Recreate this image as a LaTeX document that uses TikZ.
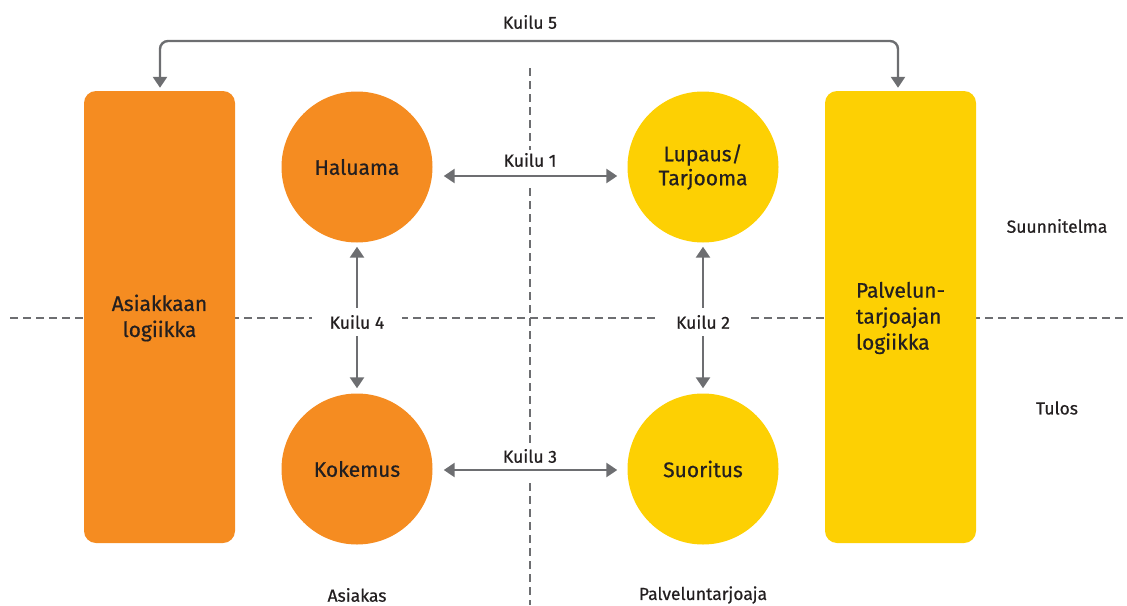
\documentclass[tikz,border=0pt]{standalone}
\usepackage{fontspec}
\setmainfont{Fira Sans}[FakeBold=0.6]
\usetikzlibrary{arrows.meta}
\definecolor{custorange}{HTML}{F58C21}
\definecolor{provyellow}{HTML}{FDD003}
\definecolor{linegray}{HTML}{6D6E71}
\definecolor{textdark}{HTML}{231F20}
\begin{document}
\begin{tikzpicture}[x=1pt,y=-1pt,
  every node/.style={text=textdark,font=\fontsize{17.5}{21}\selectfont},
  bigtext/.style={font=\fontsize{21}{26}\selectfont},
  logicbox/.style={rounded corners=12pt,minimum width=151pt,minimum height=452pt,inner sep=0pt},
  stage/.style={circle,minimum size=151pt,inner sep=0pt,bigtext,align=center},
  gaparrow/.style={draw=linegray,line width=2.4pt,{Triangle[width=14pt,length=11pt]}-{Triangle[width=14pt,length=11pt]}},
  loopline/.style={draw=linegray,line width=2.4pt,{Triangle[width=14pt,length=11pt]}-{Triangle[width=14pt,length=11pt]},rounded corners=8pt},
  guide/.style={draw=linegray,line width=2pt,dash pattern=on 8pt off 5pt},
  gaplabel/.style={fill=white,inner xsep=18pt,inner ysep=7pt}]
\useasboundingbox (0,0) rectangle (1127,605);

% dashed guide lines
\draw[guide] (10,318) -- (1127,318);
\draw[guide] (530,68) -- (530,150);
\draw[guide] (530,188) -- (530,445);
\draw[guide] (530,483) -- (530,605);

% logic boxes
\node[logicbox,fill=custorange] (cust) at (159.5,317) {};
\node[logicbox,fill=provyellow] (prov) at (900.5,317) {};
\node[align=center,bigtext] (custtext) at (159.5,318) {Asiakkaan\\logiikka};
\node[align=left,bigtext] (provtext) at (900.5,318) {Palvelun-\\tarjoajan\\logiikka};

% stages
\node[stage,fill=custorange] (hal) at (357,167) {Haluama};
\node[stage,fill=custorange] (kok) at (357,469) {Kokemus};
\node[stage,fill=provyellow,font=\fontsize{21}{24}\selectfont] (lup) at (703,167) {Lupaus/\\Tarjooma};
\node[stage,fill=provyellow] (suo) at (703,469) {Suoritus};

% gaps 1 and 3
\draw[gaparrow] ([xshift=11pt,yshift=-9pt]hal.east) -- ([xshift=-10pt,yshift=-9pt]lup.west);
\node (k1) at (530,160) {Kuilu 1};
\draw[gaparrow] ([xshift=11pt,yshift=-1pt]kok.east) -- ([xshift=-10pt,yshift=-1pt]suo.west);
\node (k3) at (530,456) {Kuilu 3};

% gaps 4 and 2
\draw[gaparrow] ([yshift=-4pt]hal.south) -- ([yshift=5pt]kok.north);
\node[gaplabel] (k4) at (357,322) {Kuilu 4};
\draw[gaparrow] ([yshift=-4pt]lup.south) -- ([yshift=5pt]suo.north);
\node[gaplabel] (k2) at (703,322) {Kuilu 2};

% gap 5: the loop over the top joining both logic boxes
\coordinate (c5l) at (160,41);
\coordinate (c5r) at (898,41);
\draw[loopline] ([xshift=0.5pt,yshift=3pt]cust.north) -- (c5l) -- (c5r) -- ([xshift=-2.5pt,yshift=3pt]prov.north);
\node (k5) at (530,22) {Kuilu 5};

% side and bottom labels
\node (plan) at (1057,226) {Suunnitelma};
\node (res) at (1057,408) {Tulos};
\node (cl) at (357,595) {Asiakas};
\node (pl) at (703,595) {Palveluntarjoaja};
\end{tikzpicture}
\end{document}
